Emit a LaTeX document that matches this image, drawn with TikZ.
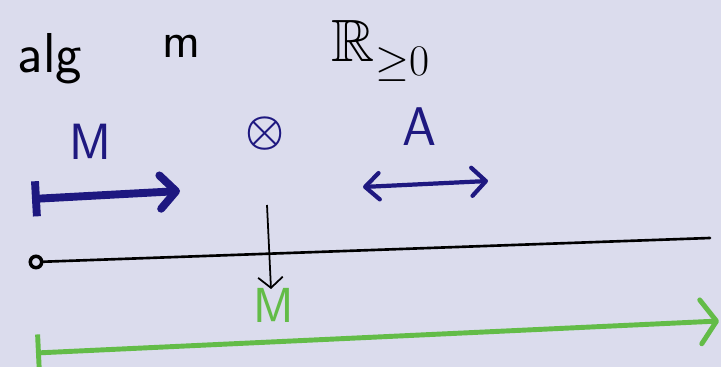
\documentclass[tikz,border=0pt]{standalone}
\usepackage{amsmath}
\usepackage{amssymb}
\usepackage{xcolor}
\usetikzlibrary{arrows.meta, positioning}
\definecolor{paper}{RGB}{219, 220, 237}
\definecolor{inkblue}{RGB}{30, 24, 128}
\definecolor{inkgreen}{RGB}{99, 188, 72}

\begin{document}
\begin{tikzpicture}[
    x=0.02cm, y=-0.02cm,
    txt/.style={inner sep=0pt, anchor=base, font=\sffamily\fontsize{#1}{#1}\selectfont},
    bluetxt/.style={txt=#1, text=inkblue},
    greentxt/.style={txt=#1, text=inkgreen},
    marrow/.style={{Bar[width=20pt]}-{Straight Barb[length=9pt, width=19pt, round]}, line width=4.5pt, color=inkblue, line cap=round},
    aarrow/.style={{Straight Barb[length=8pt, width=15pt, round]}-{Straight Barb[length=8pt, width=16pt, round]}, line width=2.4pt, color=inkblue, line cap=round},
    garrow/.style={{Bar[width=21pt]}-{Straight Barb[length=9pt, width=25pt, round]}, line width=2.8pt, color=inkgreen, line cap=round},
    axis/.style={line width=1.5pt, line cap=round},
    drop/.style={-{Straight Barb[length=6pt, width=14pt]}, line width=1pt}
]
    \fill[paper] (0,0) rectangle (721,367);
    \useasboundingbox (0,0) rectangle (721,367);

    % top row
    \node[txt=32] (alg) at (50,73) {alg};
    \node[txt=29] (m) at (181,58) {m};
    \node[txt=34] (R) at (381,62) {$\mathbb{R}_{\geq 0}$};

    % blue row
    \node[bluetxt=29] (bM) at (90,160) {M};
    \node[txt=34, text=inkblue, anchor=center] (ox) at (265,134) {$\boldsymbol{\otimes}$};
    \node[bluetxt=31] (bA) at (420,146) {A};
    \coordinate (mL) at (32,199);
    \coordinate (mR) at (180,191);
    \coordinate (aL) at (363,187);
    \coordinate (aR) at (488,181);
    \draw[marrow] (mL) -- (mR);
    \draw[aarrow] (aL) -- (aR);

    % the line
    \node[circle, draw, line width=2pt, inner sep=0pt, minimum size=6.5pt] (origin) at (36,262) {};
    \coordinate (lineR) at (710,238);
    \draw[axis] (origin) -- (lineR);

    \coordinate (dTop) at (267,205);
    \coordinate (dBot) at (271,289);
    \draw[drop] (dTop) -- (dBot);

    % green row
    \node[greentxt=28] (gM) at (274,323) {M};
    \coordinate (gL) at (36,353);
    \coordinate (gR) at (719,321);
    \draw[garrow] (gL) -- (gR);
\end{tikzpicture}
\end{document}
